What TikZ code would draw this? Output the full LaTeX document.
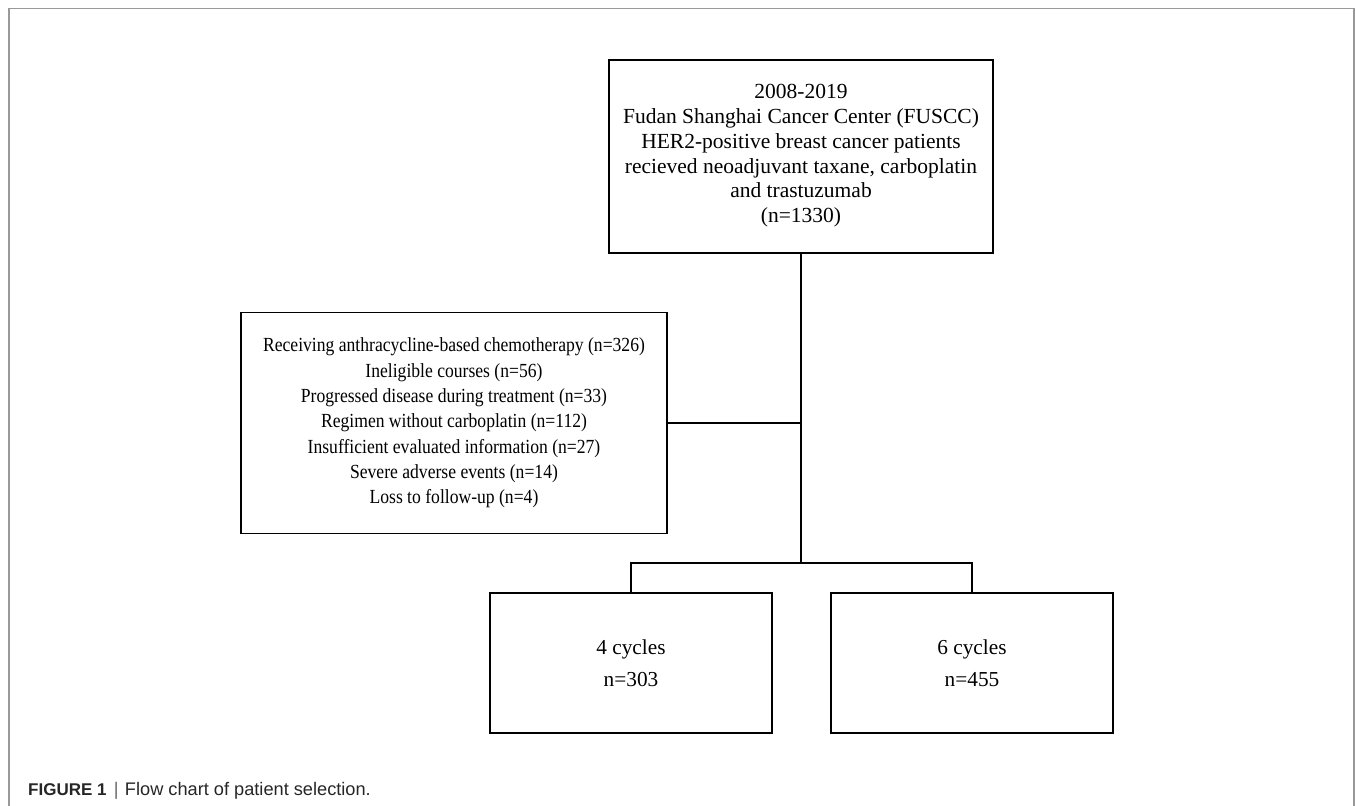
\documentclass[tikz,border=0pt]{standalone}
\usepackage{fontspec}
\setmainfont{Liberation Serif}
\newfontfamily\narrowfont[FakeStretch=0.88]{Liberation Serif}
\newfontfamily\capfont{Liberation Sans}
\usetikzlibrary{positioning}

\begin{document}
\begin{tikzpicture}[
  x=1pt, y=-1pt,
  boxNode/.style={
    draw=black, line width=1.8pt, align=center,
    inner sep=0pt, font=\fontsize{21.5}{24.7}\selectfont
  },
  exclNode/.style={
    boxNode, font=\narrowfont\fontsize{20}{25.3}\selectfont
  },
  groupNode/.style={
    boxNode, minimum width=282pt, minimum height=140pt,
    font=\fontsize{21.3}{32}\selectfont
  },
  conn/.style={draw=black, line width=1.8pt},
  frameLine/.style={draw=black!40, line width=1.3pt},
  capText/.style={anchor=base west, inner sep=0pt, black!85,
    font=\capfont\fontsize{18.2}{20}\selectfont}
]
\useasboundingbox (0,0) rectangle (1355,806);

% --- Moldura ---
\draw[frameLine] (9,806) -- (9,8.5) -- (1354,8.5) -- (1354,806);

% --- Caixa inicial ---
\node[boxNode, minimum width=384pt, minimum height=193pt,
  text depth=6pt] (T) at (801,156.5)
  {2008-2019\\
   Fudan Shanghai Cancer Center (FUSCC)\\
   HER2-positive breast cancer patients\\
   recieved neoadjuvant taxane, carboplatin\\
   and trastuzumab\\
   (n=1330)};

% --- Caixa de exclusao ---
\node[exclNode, minimum width=426pt, minimum height=221pt] (E) at (454,423)
  {Receiving anthracycline-based chemotherapy (n=326)\\
   Ineligible courses (n=56)\\
   Progressed disease during treatment (n=33)\\
   Regimen without carboplatin (n=112)\\
   Insufficient evaluated information (n=27)\\
   Severe adverse events (n=14)\\
   Loss to follow-up (n=4)};

% --- Grupos ---
\node[groupNode] (C1) at (631,663) {4 cycles\\ n=303};
\node[groupNode] (C2) at (972,663) {6 cycles\\ n=455};

% --- Conexoes ---
\coordinate (J) at (801,563);
\draw[conn] (T.south) -- (J);
\draw[conn] (E.east) -- (E.east -| J);
\draw[conn] (J) -| (C1.north);
\draw[conn] (J) -| (C2.north);

% --- Legenda ---
\node[capText] (cap) at (28,795)
  {{\fontsize{17}{20}\selectfont\bfseries FIGURE 1}\hspace{0.4em}{\color{black!60}|}\hspace{0.35em}Flow chart of patient selection.};

\end{tikzpicture}
\end{document}
